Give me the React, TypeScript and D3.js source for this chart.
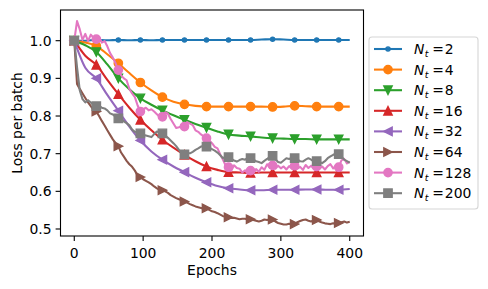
import React from "react";
import * as d3 from "d3";

const W = 488;
const H = 289;
const FONT = "DejaVu Sans";

// legend labels, colours, markers (draw order)
const ntLabels = ["2", "4", "8", "16", "32", "64", "128", "200"];
const colors = ["#1f77b4", "#ff7f0e", "#2ca02c", "#d62728", "#9467bd", "#8c564b", "#e377c2", "#7f7f7f"];
const markers = [".", "o", "v", "^", "<", ">", "o", "s"];

// smooth runs: one value every 16 epochs (0..400)
const lossNt2 = [1.0, 1.0, 1.002, 1.001, 1.002, 1.001, 1.002, 1.001, 1.002, 1.002, 1.002, 1.002, 1.002, 1.002, 1.002, 1.002, 1.002, 1.003, 1.004, 1.003, 1.002, 1.002, 1.002, 1.002, 1.002, 1.002];
const lossNt4 = [1.0, 0.995, 0.986, 0.964, 0.94, 0.914, 0.889, 0.868, 0.85, 0.838, 0.831, 0.827, 0.825, 0.825, 0.825, 0.825, 0.825, 0.825, 0.824, 0.825, 0.827, 0.826, 0.825, 0.825, 0.825, 0.825];
const lossNt8 = [1.0, 0.988, 0.97, 0.937, 0.9, 0.871, 0.847, 0.83, 0.815, 0.802, 0.79, 0.779, 0.769, 0.759, 0.751, 0.748, 0.746, 0.743, 0.741, 0.74, 0.739, 0.739, 0.738, 0.738, 0.738, 0.738];
const lossNt16 = [1.0, 0.96, 0.936, 0.896, 0.858, 0.822, 0.79, 0.762, 0.737, 0.716, 0.697, 0.68, 0.666, 0.657, 0.651, 0.65, 0.649, 0.65, 0.65, 0.65, 0.65, 0.65, 0.65, 0.65, 0.65, 0.65];
const lossNt32 = [1.0, 0.928, 0.9, 0.856, 0.814, 0.772, 0.735, 0.706, 0.684, 0.666, 0.651, 0.636, 0.624, 0.614, 0.608, 0.605, 0.603, 0.603, 0.604, 0.604, 0.604, 0.605, 0.605, 0.604, 0.604, 0.606];

// noisy runs: one value every 4 epochs (0..400)
const lossNt64 = [
  1.0, 0.885, 0.872, 0.86, 0.848, 0.836, 0.826, 0.818, 0.812, 0.8,
  0.787, 0.775, 0.762, 0.75, 0.738, 0.728, 0.72, 0.703, 0.692, 0.681,
  0.672, 0.665, 0.655, 0.642, 0.638, 0.632, 0.628, 0.624, 0.619, 0.613,
  0.608, 0.604, 0.603, 0.6, 0.596, 0.59, 0.586, 0.582, 0.579, 0.576,
  0.573, 0.57, 0.566, 0.563, 0.56, 0.558, 0.556, 0.554, 0.555, 0.551,
  0.547, 0.545, 0.542, 0.538, 0.534, 0.533, 0.531, 0.529, 0.53, 0.528,
  0.526, 0.527, 0.527, 0.525, 0.526, 0.524, 0.522, 0.52, 0.522, 0.525,
  0.524, 0.526, 0.525, 0.52, 0.516, 0.514, 0.512, 0.512, 0.514, 0.513,
  0.513, 0.518, 0.521, 0.524, 0.525, 0.522, 0.52, 0.523, 0.524, 0.52,
  0.517, 0.515, 0.514, 0.513, 0.515, 0.514, 0.516, 0.518, 0.52, 0.517,
  0.519,
];
const lossNt128 = [
  1.0, 1.052, 1.03, 1.002, 1.018, 0.999, 1.016, 1.008, 1.004, 1.01,
  0.995, 0.999, 0.985, 0.967, 0.955, 0.94, 0.922, 0.908, 0.9, 0.895,
  0.872, 0.86, 0.85, 0.828, 0.812, 0.818, 0.822, 0.815, 0.818, 0.812,
  0.805, 0.798, 0.798, 0.81, 0.806, 0.792, 0.78, 0.768, 0.77, 0.773,
  0.772, 0.784, 0.78, 0.776, 0.762, 0.758, 0.751, 0.746, 0.741, 0.735,
  0.728, 0.718, 0.714, 0.698, 0.684, 0.668, 0.664, 0.655, 0.669, 0.662,
  0.66, 0.65, 0.656, 0.646, 0.655, 0.648, 0.659, 0.652, 0.664, 0.657,
  0.672, 0.662, 0.669, 0.66, 0.668, 0.661, 0.666, 0.658, 0.667, 0.66,
  0.668, 0.66, 0.665, 0.657, 0.67, 0.662, 0.668, 0.659, 0.666, 0.66,
  0.666, 0.658, 0.667, 0.672, 0.661, 0.668, 0.664, 0.682, 0.686, 0.674,
  0.679,
];
const lossNt200 = [
  1.0, 0.93, 0.868, 0.845, 0.836, 0.842, 0.836, 0.829, 0.826, 0.828,
  0.822, 0.82, 0.815, 0.807, 0.804, 0.798, 0.794, 0.79, 0.786, 0.781,
  0.775, 0.764, 0.758, 0.757, 0.754, 0.75, 0.748, 0.746, 0.744, 0.752,
  0.759, 0.755, 0.754, 0.748, 0.742, 0.735, 0.728, 0.72, 0.71, 0.7,
  0.698, 0.702, 0.701, 0.705, 0.71, 0.714, 0.719, 0.72, 0.719, 0.716,
  0.712, 0.708, 0.703, 0.696, 0.688, 0.692, 0.691, 0.686, 0.682, 0.679,
  0.683, 0.686, 0.684, 0.689, 0.688, 0.684, 0.68, 0.678, 0.675, 0.681,
  0.686, 0.692, 0.694, 0.685, 0.678, 0.676, 0.682, 0.688, 0.686, 0.689,
  0.688, 0.684, 0.68, 0.679, 0.684, 0.688, 0.684, 0.679, 0.68, 0.677,
  0.675, 0.68, 0.688, 0.693, 0.697, 0.7, 0.699, 0.692, 0.684, 0.68,
  0.676,
];

const allSeries = [lossNt2, lossNt4, lossNt8, lossNt16, lossNt32, lossNt64, lossNt128, lossNt200];

const xTicks = [0, 100, 200, 300, 400];
const yTicks = [0.5, 0.6, 0.7, 0.8, 0.9, 1.0];
const MAX_EPOCH = 400;
const MARK_EVERY = 32;

const plot = { left: 60.5, right: 363.5, top: 10, bottom: 236 };

const MS = 8.33; // marker size 6pt @100dpi

function markerPath(m: string) {
  const h = MS / 2;
  switch (m) {
    case "v":
      return `M0,${h}L${-h},${-h}L${h},${-h}Z`;
    case "^":
      return `M0,${-h}L${-h},${h}L${h},${h}Z`;
    case "<":
      return `M${-h},0L${h},${-h}L${h},${h}Z`;
    case ">":
      return `M${h},0L${-h},${-h}L${-h},${h}Z`;
    case "s":
      return `M${-h},${-h}H${h}V${h}H${-h}Z`;
    default:
      return "";
  }
}

function Marker({ m, color, x, y }: { m: string; color: string; x: number; y: number }) {
  if (m === "o" || m === ".") {
    const r = m === "o" ? MS / 2 : MS / 4;
    return <circle cx={x} cy={y} r={r} fill={color} stroke={color} strokeWidth={1.39} />;
  }
  return (
    <path
      d={markerPath(m)}
      transform={`translate(${x},${y})`}
      fill={color}
      stroke={color}
      strokeWidth={1.39}
      strokeLinejoin="miter"
    />
  );
}

export default function App() {
  const x = d3.scaleLinear().domain([-20, 420]).range([plot.left, plot.right]);
  const y = d3.scaleLinear().domain([0.4814, 1.0815]).range([plot.bottom, plot.top]);

  const legendX = 369;
  const legendY = 37;
  const rowY = (i: number) => 49 + i * 20.6;

  return (
    <svg
      width={W}
      height={H}
      style={{ position: "absolute", left: 0, top: 0, background: "#fff" }}
      fontFamily={FONT}
    >
      <defs>
        <clipPath id="plotClip">
          <rect x={plot.left} y={plot.top} width={plot.right - plot.left} height={plot.bottom - plot.top} />
        </clipPath>
      </defs>

      {/* series */}
      <g clipPath="url(#plotClip)">
        {allSeries.map((vals, si) => {
          const step = MAX_EPOCH / (vals.length - 1);
          const line = d3
            .line<number>()
            .x((_, i) => x(i * step))
            .y((d) => y(d))
            .curve(vals.length < 30 ? d3.curveMonotoneX : d3.curveLinear);
          return (
            <g key={si}>
              <path d={line(vals) || ""} fill="none" stroke={colors[si]} strokeWidth={2.08} strokeLinejoin="round" />
              {vals.map((v, i) =>
                (i * step) % MARK_EVERY === 0 ? (
                  <Marker key={i} m={markers[si]} color={colors[si]} x={x(i * step)} y={y(v)} />
                ) : null
              )}
            </g>
          );
        })}
      </g>

      {/* spines */}
      <rect
        x={plot.left}
        y={plot.top}
        width={plot.right - plot.left}
        height={plot.bottom - plot.top}
        fill="none"
        stroke="#000"
        strokeWidth={1.1}
      />

      {/* x axis */}
      {xTicks.map((t) => (
        <g key={t}>
          <line x1={x(t)} x2={x(t)} y1={plot.bottom} y2={plot.bottom + 4.9} stroke="#000" strokeWidth={1.1} />
          <text x={x(t)} y={257.5} fontSize={13.9} textAnchor="middle" fill="#000">
            {t}
          </text>
        </g>
      ))}
      <text x={(plot.left + plot.right) / 2} y={275} fontSize={13.9} textAnchor="middle" fill="#000">
        Epochs
      </text>

      {/* y axis */}
      {yTicks.map((t) => (
        <g key={t}>
          <line x1={plot.left - 4.9} x2={plot.left} y1={y(t)} y2={y(t)} stroke="#000" strokeWidth={1.1} />
          <text x={51.5} y={y(t) + 5.05} fontSize={13.9} textAnchor="end" fill="#000">
            {t.toFixed(1)}
          </text>
        </g>
      ))}
      <text
        transform={`translate(21.7,${(plot.top + plot.bottom) / 2}) rotate(-90)`}
        fontSize={13.9}
        textAnchor="middle"
        fill="#000"
      >
        Loss per batch
      </text>

      {/* legend */}
      <rect
        x={legendX}
        y={legendY}
        width={109}
        height={172}
        rx={3}
        fill="#fff"
        fillOpacity={0.8}
        stroke="#d6d6d6"
        strokeWidth={1.1}
      />
      {ntLabels.map((lab, i) => {
        const cy = rowY(i);
        return (
          <g key={lab}>
            <line x1={374} x2={402} y1={cy} y2={cy} stroke={colors[i]} strokeWidth={2.08} />
            <Marker m={markers[i]} color={colors[i]} x={388} y={cy} />
            <text x={414} y={cy + 5} fontSize={13.9} fontStyle="italic" fill="#000">
              N
            </text>
            <text x={424.8} y={cy + 8} fontSize={9.4} fontStyle="italic" fill="#000">
              t
            </text>
            <text x={432.2} y={cy + 5} fontSize={13.9} fill="#000">
              =
            </text>
            <text x={444.8} y={cy + 5} fontSize={13.9} fill="#000">
              {lab}
            </text>
          </g>
        );
      })}
    </svg>
  );
}
